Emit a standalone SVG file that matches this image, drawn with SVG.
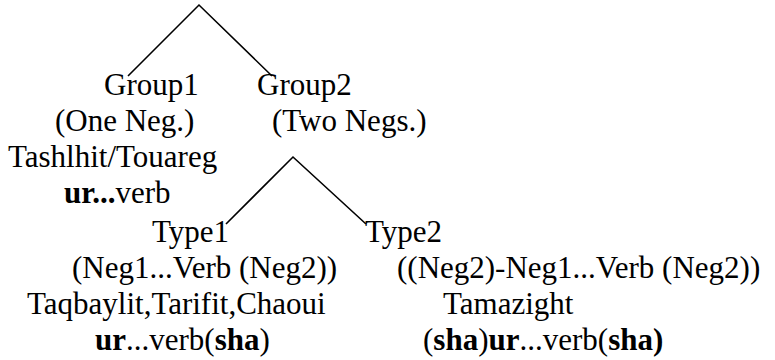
<svg xmlns="http://www.w3.org/2000/svg" width="775" height="360" viewBox="0 0 775 360">
  <style>
    text { font-family: "Liberation Serif", "Times New Roman", serif; font-size: 31px; fill: #000; }
    .b { font-weight: bold; }
    .edge { stroke: #000; stroke-width: 1.6; fill: none; }
  </style>
  <rect width="775" height="360" fill="#fff"/>

  <!-- tree branches -->
  <g id="connectors">
    <polyline class="edge" points="128,76 199,5 272,76"/>
    <polyline class="edge" points="226,224 293,157 366,224"/>
  </g>

  <g id="group1">
    <text x="104" y="95">Group1</text>
    <text x="55" y="131">(One Neg.)</text>
    <text x="8" y="167">Tashlhit/Touareg</text>
    <text x="64" y="203"><tspan class="b">ur...</tspan>verb</text>
  </g>

  <g id="group2">
    <text x="257" y="95">Group2</text>
    <text x="272" y="131">(Two Negs.)</text>
  </g>

  <g id="type1">
    <text x="152" y="242">Type1</text>
    <text x="72" y="278">(Neg1...Verb (Neg2))</text>
    <text x="27" y="314">Taqbaylit,Tarifit,Chaoui</text>
    <text x="95" y="350"><tspan class="b">ur</tspan>...verb(<tspan class="b">sha</tspan>)</text>
  </g>

  <g id="type2">
    <text x="365" y="242">Type2</text>
    <text x="397" y="278">((Neg2)-Neg1...Verb (Neg2))</text>
    <text x="443" y="314">Tamazight</text>
    <text x="423" y="350">(<tspan class="b">sha</tspan>)<tspan class="b">ur</tspan>...verb(<tspan class="b">sha)</tspan></text>
  </g>
</svg>
